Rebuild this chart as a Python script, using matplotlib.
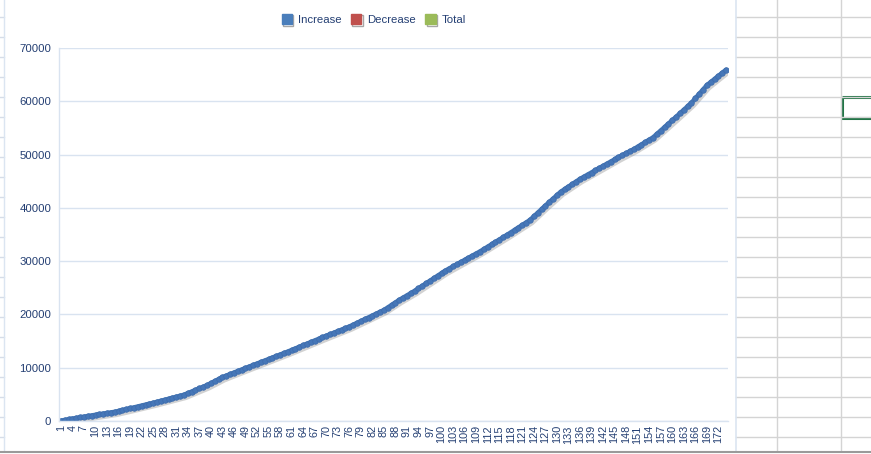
import matplotlib
matplotlib.use("Agg")
import matplotlib.pyplot as plt
import matplotlib.patheffects as pe
from matplotlib.lines import Line2D

# cumulative values (categories 1..174)
values = [
    50, 170, 290, 420, 540, 670, 800, 910, 1030, 1140,
    1250, 1370, 1480, 1590, 1700, 1860, 2030, 2200, 2360, 2530,
    2700, 2860, 3030, 3200, 3390, 3580, 3760, 3950, 4140, 4330,
    4520, 4710, 4900, 5200, 5500, 5800, 6100, 6400, 6700, 7070,
    7450, 7820, 8200, 8490, 8770, 9060, 9340, 9630, 9910, 10200,
    10480, 10750, 11030, 11310, 11590, 11860, 12140, 12420, 12700, 13000,
    13300, 13600, 13900, 14200, 14500, 14800, 15100, 15390, 15680, 15970,
    16260, 16540, 16830, 17120, 17410, 17700, 18040, 18390, 18730, 19080,
    19420, 19770, 20110, 20460, 20800, 21280, 21750, 22230, 22700, 23130,
    23550, 23980, 24400, 24880, 25350, 25830, 26300, 26780, 27250, 27730,
    28200, 28600, 29000, 29400, 29800, 30200, 30600, 31000, 31400, 31800,
    32240, 32690, 33130, 33570, 34010, 34460, 34900, 35370, 35830, 36300,
    36770, 37230, 37700, 38380, 39050, 39730, 40400, 41050, 41700, 42350,
    43000, 43480, 43960, 44440, 44920, 45400, 45810, 46220, 46630, 47040,
    47460, 47870, 48280, 48690, 49100, 49480, 49860, 50240, 50620, 51000,
    51440, 51880, 52320, 52760, 53200, 53840, 54480, 55120, 55760, 56400,
    57060, 57720, 58380, 59040, 59700, 60530, 61350, 62180, 63000, 63580,
    64160, 64740, 65320, 65900,
]
categories = list(range(1, len(values) + 1))
tick_labels = [str(c) for c in categories[::3]]
y_ticks = [0, 10000, 20000, 30000, 40000, 50000, 60000, 70000]
legend_names = ["Increase", "Decrease", "Total"]
legend_colors = ["#4a7ebb", "#c0504d", "#9bbb59"]

txt = "#243f73"
plt.rcParams['font.family'] = ['Liberation Sans', 'DejaVu Sans']

W, H = 871, 454
fig = plt.figure(figsize=(W / 100, H / 100), dpi=100)
fig.patch.set_facecolor("white")

# spreadsheet behind the chart
bg = fig.add_axes([0, 0, 1, 1], zorder=-5)
bg.set_xlim(0, W)
bg.set_ylim(H, 0)
bg.axis("off")
cell = "#d4d4d4"
for r in range(17, 452, 20):
    bg.plot([0, 4], [r, r], color="#d6dde8", lw=1)
    bg.plot([736, W], [r, r], color=cell, lw=1)
for c in [777, 841]:
    bg.plot([c, c], [0, 451], color=cell, lw=1)
bg.plot([4, 4], [0, 451], color="#dbe5f1", lw=1)
bg.plot([736, 736], [0, 451], color="#dbe5f1", lw=1.2)
bg.plot([0, W], [451.5, 451.5], color="#9a9a9a", lw=1.5)
bg.add_patch(plt.Rectangle((841.5, 97), 40, 21, fill=False,
                           edgecolor="#217346", lw=2.2))

ax = fig.add_axes([59 / W, 1 - 421 / H, (728 - 59) / W, (421 - 48) / H])
ax.set_facecolor("white")
# soft drop shadow under the series
ax.plot(categories, values, color="#4a7ebb", lw=3.4, solid_capstyle="round",
        path_effects=[pe.SimpleLineShadow(offset=(1.5, -2),
                                          shadow_color="#7f7f7f", alpha=0.35),
                      pe.Normal()])
ax.plot(categories, values, ls="none", marker="o", markersize=4,
        markerfacecolor="#4677b8", markeredgecolor="#3d6bab",
        markeredgewidth=0.5)
ax.set_xlim(0.5, len(values) + 0.5)
ax.set_ylim(0, 70000)
ax.set_yticks(y_ticks)
ax.set_yticklabels([str(v) for v in y_ticks])
ax.set_xticks(categories[::3])
ax.set_xticklabels(tick_labels, rotation=90, va="top", ha="center")
ax.tick_params(axis="y", length=0, pad=5.5, labelsize=8.2, labelcolor=txt)
ax.tick_params(axis="x", length=0, pad=3, labelsize=7.8, labelcolor=txt)
ax.grid(axis="y", color="#d9e3f0", lw=1)
ax.set_axisbelow(True)
for s in ["top", "right"]:
    ax.spines[s].set_visible(False)
for s in ["left", "bottom"]:
    ax.spines[s].set_color("#d9e3f0")
    ax.spines[s].set_linewidth(1)

handles = [Line2D([], [], ls="none", marker="s", markersize=7.5,
                  markerfacecolor=c, markeredgecolor=c,
                  path_effects=[pe.SimpleLineShadow(offset=(1, -1.2), alpha=0.35),
                                pe.Normal()])
           for c in legend_colors]
fig.legend(handles, legend_names, loc="center", bbox_to_anchor=(0.428, 0.956),
           ncol=3, frameon=False, fontsize=8.2, labelcolor=txt,
           handletextpad=0.35, columnspacing=0.7, handlelength=1.2)

fig.savefig("out.png", dpi=100)
